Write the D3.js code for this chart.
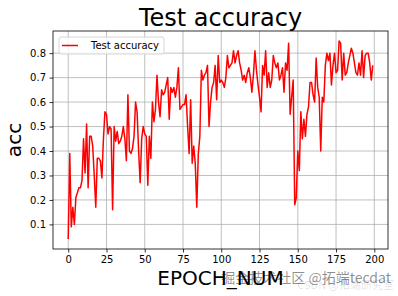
<!DOCTYPE html>
<html>
<head>
<meta charset="utf-8">
<script src="https://cdn.jsdelivr.net/npm/d3@7"></script>
<style>
  html, body { margin: 0; padding: 0; background: #fff; }
  svg { display: block; font-family: "DejaVu Sans", sans-serif; }
  .grid line { stroke: #b0b0b0; stroke-width: 0.8; }
  .axis path { display: none; }
  .axis line { stroke: #000; stroke-width: 0.8; }
  .axis text { fill: #000; font-size: 10px; font-family: "DejaVu Sans", sans-serif; }
</style>
</head>
<body>
<div id="chart"></div>
<script>
// test accuracy per epoch
const accuracy = [
  0.04, 0.39, 0.09, 0.17, 0.10, 0.21, 0.23, 0.25, 0.25, 0.28,
  0.45, 0.31, 0.51, 0.25, 0.46, 0.46, 0.42, 0.30, 0.17, 0.37,
  0.37, 0.36, 0.29, 0.45, 0.56, 0.55, 0.47, 0.50, 0.49, 0.16,
  0.50, 0.44, 0.48, 0.43, 0.44, 0.46, 0.50, 0.45, 0.36, 0.63,
  0.40, 0.39, 0.41, 0.46, 0.60, 0.56, 0.40, 0.27, 0.45, 0.50,
  0.47, 0.46, 0.26, 0.46, 0.37, 0.60, 0.52, 0.57, 0.71, 0.60,
  0.54, 0.65, 0.63, 0.64, 0.67, 0.70, 0.53, 0.66, 0.64, 0.66,
  0.62, 0.66, 0.74, 0.57, 0.58, 0.59, 0.59, 0.63, 0.50, 0.39,
  0.61, 0.35, 0.42, 0.35, 0.17, 0.39, 0.46, 0.73, 0.69, 0.71,
  0.72, 0.75, 0.50, 0.60, 0.66, 0.68, 0.75, 0.61, 0.79, 0.68,
  0.69, 0.68, 0.66, 0.70, 0.79, 0.74, 0.75, 0.76, 0.81, 0.76,
  0.79, 0.81, 0.76, 0.73, 0.69, 0.71, 0.68, 0.72, 0.74, 0.70,
  0.64, 0.71, 0.81, 0.73, 0.67, 0.62, 0.56, 0.75, 0.71, 0.81,
  0.66, 0.72, 0.66, 0.69, 0.79, 0.76, 0.74, 0.76, 0.69, 0.71,
  0.74, 0.64, 0.76, 0.73, 0.84, 0.55, 0.62, 0.69, 0.18, 0.21,
  0.40, 0.32, 0.56, 0.45, 0.53, 0.46, 0.55, 0.58, 0.68, 0.68,
  0.63, 0.60, 0.78, 0.66, 0.62, 0.40, 0.62, 0.60, 0.75, 0.80,
  0.77, 0.80, 0.67, 0.75, 0.80, 0.72, 0.73, 0.85, 0.84, 0.69,
  0.80, 0.71, 0.72, 0.76, 0.79, 0.82, 0.80, 0.76, 0.72, 0.71,
  0.76, 0.71, 0.81, 0.70, 0.79, 0.80, 0.80, 0.76, 0.69, 0.75
];
const epochs = accuracy.map((d, i) => i);

const xTicks = [0, 25, 50, 75, 100, 125, 150, 175, 200];
const yTicks = [0.1, 0.2, 0.3, 0.4, 0.5, 0.6, 0.7, 0.8];

const titleText = "Test accuracy";
const seriesName = "Test accuracy";
const xLabel = "EPOCH_NUM";
const yLabel = "acc";

const width = 398, height = 296;
const margin = { top: 31, right: 10, bottom: 47, left: 53 };
const innerWidth = width - margin.left - margin.right;
const innerHeight = height - margin.top - margin.bottom;

const svg = d3.select("#chart")
  .append("svg")
  .attr("width", width)
  .attr("height", height);

const g = svg.append("g")
  .attr("transform", `translate(${margin.left},${margin.top})`);

// matplotlib-style 5% margins
const xExt = d3.extent(epochs);
const yExt = d3.extent(accuracy);
const xPad = (xExt[1] - xExt[0]) * 0.05;
const yPad = (yExt[1] - yExt[0]) * 0.05;

const x = d3.scaleLinear()
  .domain([xExt[0] - xPad, xExt[1] + xPad])
  .range([0, innerWidth]);

const y = d3.scaleLinear()
  .domain([yExt[0] - yPad, yExt[1] + yPad])
  .range([innerHeight, 0]);

// grid
g.append("g")
  .attr("class", "grid")
  .selectAll("line")
  .data(xTicks)
  .enter()
  .append("line")
  .attr("x1", d => x(d)).attr("x2", d => x(d))
  .attr("y1", 0).attr("y2", innerHeight);

g.append("g")
  .attr("class", "grid")
  .selectAll("line")
  .data(yTicks)
  .enter()
  .append("line")
  .attr("x1", 0).attr("x2", innerWidth)
  .attr("y1", d => y(d)).attr("y2", d => y(d));

// axes
g.append("g")
  .attr("class", "axis")
  .attr("transform", `translate(0,${innerHeight})`)
  .call(d3.axisBottom(x).tickValues(xTicks).tickSize(3.5).tickPadding(3.5).tickFormat(d3.format("d")));

g.append("g")
  .attr("class", "axis")
  .call(d3.axisLeft(y).tickValues(yTicks).tickSize(3.5).tickPadding(3.5).tickFormat(d3.format(".1f")));

// line
const line = d3.line()
  .x((d, i) => x(epochs[i]))
  .y(d => y(d));

g.append("path")
  .datum(accuracy)
  .attr("fill", "none")
  .attr("stroke", "#ff0000")
  .attr("stroke-width", 1.5)
  .attr("stroke-linejoin", "round")
  .attr("d", line);

// frame
g.append("rect")
  .attr("width", innerWidth)
  .attr("height", innerHeight)
  .attr("fill", "none")
  .attr("stroke", "#000")
  .attr("stroke-width", 0.8);

// legend
const legend = g.append("g").attr("transform", "translate(6,6)");
legend.append("rect")
  .attr("width", 105)
  .attr("height", 17)
  .attr("rx", 2)
  .attr("fill", "#fff")
  .attr("fill-opacity", 0.8)
  .attr("stroke", "#cccccc")
  .attr("stroke-width", 0.8);
legend.append("line")
  .attr("x1", 3).attr("x2", 19)
  .attr("y1", 8.5).attr("y2", 8.5)
  .attr("stroke", "#ff0000")
  .attr("stroke-width", 1.5);
legend.append("text")
  .attr("x", 32)
  .attr("y", 12)
  .attr("font-size", 10)
  .attr("fill", "#000")
  .text(seriesName);

// title and axis labels
svg.append("text")
  .attr("x", margin.left + innerWidth / 2)
  .attr("y", 26)
  .attr("text-anchor", "middle")
  .attr("font-size", 24)
  .attr("fill", "#000")
  .text(titleText);

svg.append("text")
  .attr("x", margin.left + innerWidth / 2)
  .attr("y", 285)
  .attr("text-anchor", "middle")
  .attr("font-size", 20)
  .attr("fill", "#000")
  .text(xLabel);

svg.append("text")
  .attr("transform", `translate(21,${margin.top + innerHeight / 2}) rotate(-90)`)
  .attr("text-anchor", "middle")
  .attr("font-size", 20)
  .attr("fill", "#000")
  .text(yLabel);

// watermark
svg.append("text")
  .attr("x", 394)
  .attr("y", 289)
  .attr("text-anchor", "end")
  .attr("font-size", 11)
  .attr("font-family", "'Noto Sans CJK SC', sans-serif")
  .attr("fill", "#000")
  .attr("fill-opacity", 0.12)
  .text("CSDN @拓端研究室");

svg.append("text")
  .attr("x", 391)
  .attr("y", 283)
  .attr("text-anchor", "end")
  .attr("font-size", 14)
  .attr("font-family", "'Noto Sans CJK SC', sans-serif")
  .attr("fill", "#000")
  .attr("fill-opacity", 0.45)
  .text("掘金技术社区 @拓端tecdat");
</script>
</body>
</html>
